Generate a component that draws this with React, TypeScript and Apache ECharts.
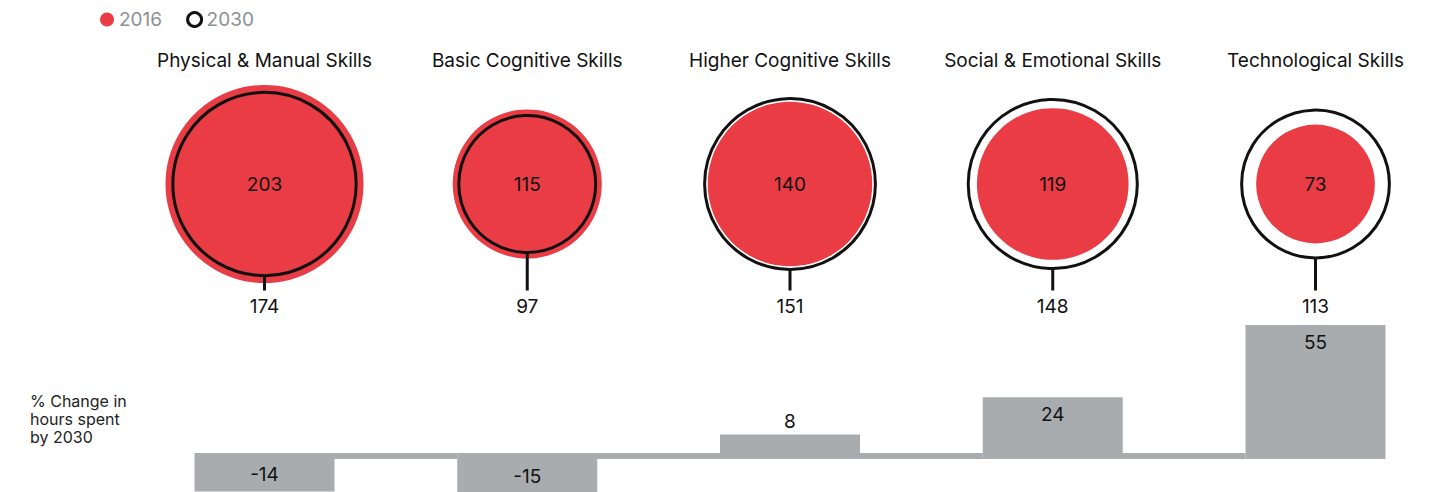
import React, { useEffect, useRef } from "react";
import * as echarts from "echarts";

const categories = [
  "Physical & Manual Skills",
  "Basic Cognitive Skills",
  "Higher Cognitive Skills",
  "Social & Emotional Skills",
  "Technological Skills",
];
const hours2016 = [203, 115, 140, 119, 73];
const hours2030 = [174, 97, 151, 148, 113];
const pctChange = [-14, -15, 8, 24, 55];
const legendNames = ["2016", "2030"];
const sideLabel = "% Change in\nhours spent\nby 2030";

const RED = "#e93c44";
const GRAY = "#a9acaf";
const INK = "#111111";
const FONT = "Inter, 'Noto Sans', sans-serif";
const K = 6.95; // px radius per sqrt(hour)
const BAR_W = 140;
const BAND = 6;

export default function App() {
  const ref = useRef<HTMLDivElement>(null);
  useEffect(() => {
    if (!ref.current) return;
    const chart = echarts.init(ref.current, null, { renderer: "svg" });
    const option: any = {
      animation: false,
      textStyle: { fontFamily: FONT },
      legend: {
        left: 95,
        top: 5,
        itemWidth: 14,
        itemHeight: 14,
        itemGap: 24,
        textStyle: { color: "#8c9096", fontSize: 19, fontFamily: FONT },
        selectedMode: false,
        data: [
          { name: legendNames[0], icon: "circle", itemStyle: { color: RED } },
          {
            name: legendNames[1],
            icon: "circle",
            itemStyle: { color: "#ffffff", borderColor: INK, borderWidth: 3 },
          },
        ],
      },
      grid: [
        { left: 264.5, right: 125.5, top: 80, height: 208 },
        { left: 264.5, right: 125.5, top: 316.4, height: 174.5 },
      ],
      xAxis: [
        {
          type: "category",
          gridIndex: 0,
          data: categories,
          boundaryGap: false,
          position: "top",
          axisLine: { show: false },
          axisTick: { show: false },
          axisLabel: {
            interval: 0,
            fontSize: 19,
            color: INK,
            margin: 10,
            fontFamily: FONT,
          },
        },
        {
          type: "category",
          gridIndex: 1,
          data: categories,
          boundaryGap: false,
          show: false,
        },
      ],
      yAxis: [
        { type: "value", gridIndex: 0, min: -1, max: 1, show: false },
        { type: "value", gridIndex: 1, min: -15, max: 60, show: false },
      ],
      graphic: [
        {
          type: "text",
          left: 30,
          top: 392,
          style: {
            text: sideLabel,
            fontSize: 16,
            lineHeight: 18,
            fill: "#222",
            fontFamily: FONT,
          },
        },
      ],
      series: [
        {
          name: legendNames[0],
          type: "custom",
          xAxisIndex: 0,
          yAxisIndex: 0,
          coordinateSystem: "cartesian2d",
          encode: { x: 0, y: 1 },
          data: hours2016.map((v, i) => [i, 0, v]),
          itemStyle: { color: RED },
          renderItem: (params: any, api: any) => {
            const v = api.value(2);
            const [cx, cy] = api.coord([api.value(0), 0]);
            const r = K * Math.sqrt(v);
            return {
              type: "group",
              children: [
                { type: "circle", shape: { cx, cy, r }, style: { fill: RED } },
                {
                  type: "text",
                  style: {
                    text: String(v),
                    x: cx,
                    y: cy,
                    align: "center",
                    verticalAlign: "middle",
                    fontSize: 19,
                    fill: INK,
                    fontFamily: FONT,
                  },
                },
              ],
            };
          },
        },
        {
          name: legendNames[1],
          type: "custom",
          xAxisIndex: 0,
          yAxisIndex: 0,
          coordinateSystem: "cartesian2d",
          encode: { x: 0, y: 1 },
          data: hours2030.map((v, i) => [i, 0, v]),
          itemStyle: { color: INK },
          renderItem: (params: any, api: any) => {
            const v = api.value(2);
            const [cx, cy] = api.coord([api.value(0), 0]);
            const r = K * Math.sqrt(v);
            return {
              type: "group",
              children: [
                {
                  type: "circle",
                  shape: { cx, cy, r },
                  style: { fill: "none", stroke: INK, lineWidth: 3 },
                },
                {
                  type: "line",
                  shape: { x1: cx, y1: cy + r, x2: cx, y2: cy + 106.5 },
                  style: { stroke: INK, lineWidth: 3 },
                },
                {
                  type: "text",
                  style: {
                    text: String(v),
                    x: cx,
                    y: cy + 122,
                    align: "center",
                    verticalAlign: "middle",
                    fontSize: 19,
                    fill: INK,
                    fontFamily: FONT,
                  },
                },
              ],
            };
          },
        },
        {
          name: "change",
          type: "custom",
          xAxisIndex: 1,
          yAxisIndex: 1,
          coordinateSystem: "cartesian2d",
          encode: { x: 0, y: 1 },
          data: pctChange.map((v, i) => [i, v]),
          itemStyle: { color: GRAY },
          renderItem: (params: any, api: any) => {
            const idx = api.value(0);
            const v = api.value(1);
            const [cx, y0] = api.coord([idx, 0]);
            const [, yv] = api.coord([idx, v]);
            const band = api.size([1, 0])[0];
            const last = params.dataIndex === pctChange.length - 1;
            const half = BAND / 2;
            const bandEnd = last ? cx + BAR_W / 2 : cx - BAR_W / 2 + band;
            let top: number, bottom: number, labelY: number;
            if (v >= 0) {
              top = yv - half;
              bottom = y0 - half;
              labelY = bottom - top > 30 ? top + 17 : top - 13;
            } else {
              top = y0 + half;
              bottom = yv + half;
              labelY = bottom - top > 30 ? bottom - 17 : bottom + 13;
            }
            return {
              type: "group",
              children: [
                {
                  type: "rect",
                  shape: { x: cx - BAR_W / 2, y: y0 - half, width: bandEnd - (cx - BAR_W / 2), height: BAND },
                  style: { fill: GRAY },
                },
                {
                  type: "rect",
                  shape: { x: cx - BAR_W / 2, y: top, width: BAR_W, height: bottom - top },
                  style: { fill: GRAY },
                },
                {
                  type: "text",
                  style: {
                    text: String(v),
                    x: cx,
                    y: labelY,
                    align: "center",
                    verticalAlign: "middle",
                    fontSize: 19,
                    fill: INK,
                    fontFamily: FONT,
                  },
                },
              ],
            };
          },
        },
      ],
    };
    chart.setOption(option);
    return () => chart.dispose();
  }, []);
  return (
    <div
      ref={ref}
      style={{ position: "absolute", left: 0, top: 0, width: 1441, height: 492 }}
    />
  );
}
